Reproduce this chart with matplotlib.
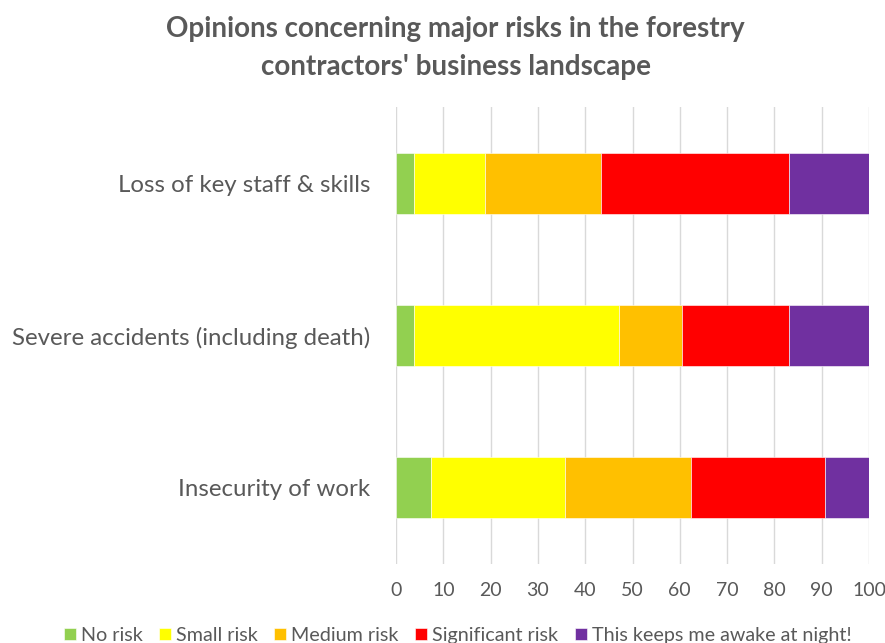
import numpy as np
import matplotlib.pyplot as plt

plt.rcParams['font.family'] = ['Lato', 'DejaVu Sans']

categories = ['Loss of key staff & skills',
              'Severe accidents (including death)',
              'Insecurity of work']
series = ['No risk', 'Small risk', 'Medium risk', 'Significant risk',
          'This keeps me awake at night!']
no_risk = [3.7, 3.7, 7.5]
small_risk = [15.2, 43.5, 28.3]
medium_risk = [24.5, 13.2, 26.5]
significant_risk = [39.6, 22.6, 28.3]
awake_at_night = [17.0, 17.0, 9.4]

colors = ['#92D050', '#FFFF00', '#FFC000', '#FF0000', '#7030A0']
text_col = '#595959'

fig = plt.figure(figsize=(8.85, 6.43), dpi=100)
ax = fig.add_axes([396 / 885, 1 - 564 / 643, 473 / 885, 457 / 643])

y = np.arange(len(categories))
left = np.zeros(len(categories))
for name, vals, c in zip(series, [no_risk, small_risk, medium_risk,
                                  significant_risk, awake_at_night], colors):
    ax.barh(y, vals, left=left, height=0.4, color=c, label=name,
            edgecolor='white', linewidth=0.4, zorder=3)
    left += np.array(vals)

ax.set_xlim(0, 100)
ax.set_ylim(2.5, -0.5)
ax.set_xticks(np.arange(0, 101, 10))
ax.set_yticks(y)
ax.set_yticklabels(categories, fontsize=17.3, color=text_col)
ax.tick_params(axis='x', labelsize=14, colors=text_col, length=0, pad=13)
ax.tick_params(axis='y', length=0, pad=18.5)
ax.grid(axis='x', color='#D9D9D9', linewidth=1, zorder=0)
for s in ax.spines.values():
    s.set_visible(False)

fig.suptitle("Opinions concerning major risks in the forestry\ncontractors' business landscape",
             x=0.515, y=0.975, fontsize=20, fontweight='bold', color=text_col,
             linespacing=1.55)

fig.legend(loc='center', bbox_to_anchor=(0.517, 0.012), ncol=5, frameon=False,
           fontsize=14.2, handlelength=0.6, handleheight=0.6, handletextpad=0.25,
           columnspacing=0.85, labelcolor=text_col, borderpad=0)

fig.savefig('out.png', dpi=100)
